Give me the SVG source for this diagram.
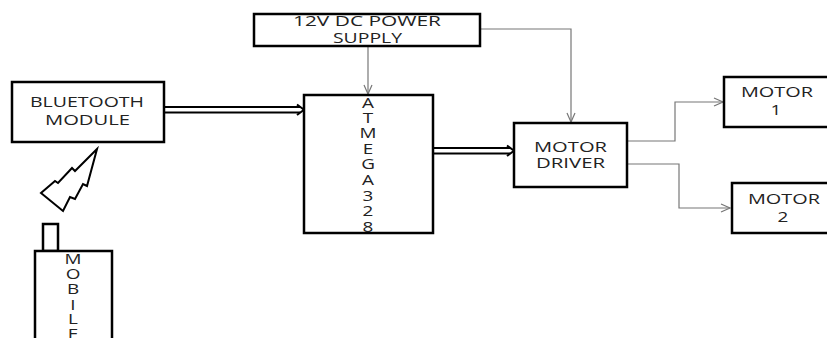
<svg xmlns="http://www.w3.org/2000/svg" width="827" height="338" viewBox="0 0 827 338">
<defs>
<style>
.box{fill:#fff;stroke:#000;stroke-width:2.5}
.lbl{font-family:"Open Sans","Liberation Sans",sans-serif;font-size:14px;fill:#222}
.thin{fill:none;stroke:#777;stroke-width:1.2}
.dbl{fill:none;stroke:#000;stroke-width:1.8}
</style>
<marker id="open" markerWidth="12" markerHeight="10" refX="10" refY="5" orient="auto" markerUnits="userSpaceOnUse">
<path d="M1,1 L10,5 L1,9" fill="none" stroke="#777" stroke-width="1.2"/>
</marker>
</defs>
<rect width="827" height="338" fill="#fff"/>

<g id="connectors">
<line class="thin" x1="368" y1="47" x2="368" y2="94" marker-end="url(#open)"/>
<polyline class="thin" points="481,29 571,29 571,122" marker-end="url(#open)"/>
<polyline class="thin" points="628,141 675,141 675,102 723,102" marker-end="url(#open)"/>
<polyline class="thin" points="628,164 679,164 679,208 730,208" marker-end="url(#open)"/>
<g id="bt-to-mcu">
<line class="dbl" x1="164" y1="107" x2="300" y2="107"/>
<line class="dbl" x1="164" y1="112.5" x2="300" y2="112.5"/>
<path d="M297,104.5 L304,109.7 L297,115" fill="none" stroke="#000" stroke-width="2"/>
</g>
<g id="mcu-to-driver">
<line class="dbl" x1="433" y1="148" x2="510" y2="148"/>
<line class="dbl" x1="433" y1="153.5" x2="510" y2="153.5"/>
<path d="M507,145.5 L514,150.7 L507,156" fill="none" stroke="#000" stroke-width="2"/>
</g>
</g>

<g id="power">
<rect class="box" x="254" y="14" width="226" height="32"/>
<text class="lbl" x="293" y="26" textLength="148" lengthAdjust="spacingAndGlyphs">12V DC POWER</text>
<text class="lbl" x="333" y="43" textLength="69" lengthAdjust="spacingAndGlyphs">SUPPLY</text>
</g>

<g id="bluetooth">
<rect class="box" x="12" y="82" width="152" height="60"/>
<text class="lbl" x="30" y="107" textLength="114" lengthAdjust="spacingAndGlyphs">BLUETOOTH</text>
<text class="lbl" x="45" y="125" textLength="85" lengthAdjust="spacingAndGlyphs">MODULE</text>
</g>

<g id="atmega">
<rect class="box" x="304" y="95" width="129" height="138"/>
<g class="lbl" text-anchor="middle" font-size="13">
<text transform="translate(368,108) scale(1.35,1)">A</text>
<text transform="translate(368,123) scale(1.35,1)">T</text>
<text transform="translate(368,138) scale(1.35,1)">M</text>
<text transform="translate(368,154) scale(1.35,1)">E</text>
<text transform="translate(368,169) scale(1.35,1)">G</text>
<text transform="translate(368,185) scale(1.35,1)">A</text>
<text transform="translate(368,201) scale(1.35,1)">3</text>
<text transform="translate(368,216) scale(1.35,1)">2</text>
<text transform="translate(368,232) scale(1.35,1)">8</text>
</g>
</g>

<g id="driver">
<rect class="box" x="514" y="123" width="113" height="64"/>
<text class="lbl" x="534" y="152" textLength="73" lengthAdjust="spacingAndGlyphs">MOTOR</text>
<text class="lbl" x="536" y="168" textLength="69" lengthAdjust="spacingAndGlyphs">DRIVER</text>
</g>

<g id="motor1">
<rect class="box" x="724" y="77" width="110" height="50"/>
<text class="lbl" x="741" y="97" textLength="72" lengthAdjust="spacingAndGlyphs">MOTOR</text>
<text class="lbl" text-anchor="middle" transform="translate(776,115) scale(1.35,1)">1</text>
</g>

<g id="motor2">
<rect class="box" x="732" y="183" width="110" height="50"/>
<text class="lbl" x="748" y="204" textLength="72" lengthAdjust="spacingAndGlyphs">MOTOR</text>
<text class="lbl" text-anchor="middle" transform="translate(783,222) scale(1.35,1)">2</text>
</g>

<g id="signal">
<polygon points="97,149 75,171 72,168 58,183 55,181 41,193 63,211 70,197 75,199 83,184 87,186" fill="#fff" stroke="#000" stroke-width="2" stroke-linejoin="miter"/>
</g>

<g id="mobile">
<rect class="box" x="43" y="224" width="15" height="27"/>
<rect class="box" x="35" y="251" width="77" height="100"/>
<g class="lbl" text-anchor="middle" font-size="13">
<text transform="translate(73,264) scale(1.35,1)">M</text>
<text transform="translate(73,279) scale(1.35,1)">O</text>
<text transform="translate(73,294) scale(1.35,1)">B</text>
<text transform="translate(73,310) scale(1.35,1)">I</text>
<text transform="translate(73,324) scale(1.35,1)">L</text>
<text transform="translate(73,339) scale(1.35,1)">E</text>
</g>
</g>
</svg>
